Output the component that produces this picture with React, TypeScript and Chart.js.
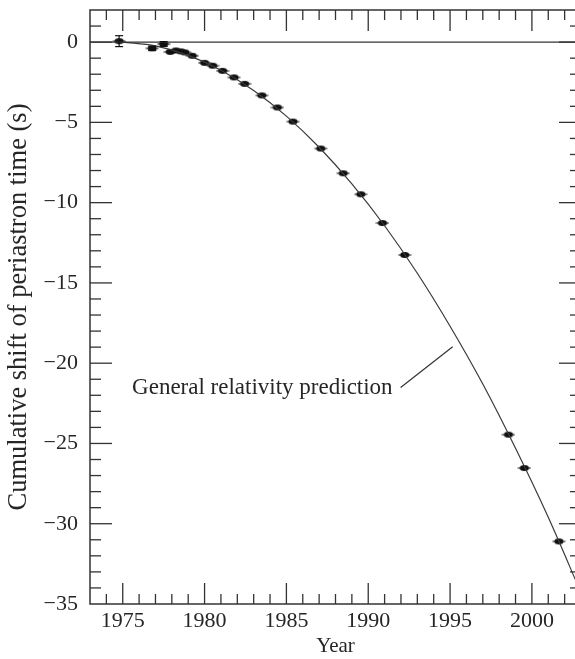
import React, { useEffect, useRef } from 'react';
import { Chart, registerables } from 'chart.js';

Chart.register(...registerables);

// Observed cumulative shift of periastron time (s)
const OBS_YEARS = [1974.78, 1976.8, 1977.5, 1977.9, 1978.25, 1978.56, 1978.8, 1979.25, 1980.0, 1980.5, 1981.1, 1981.8, 1982.45, 1983.5, 1984.45, 1985.4, 1987.1, 1988.47, 1989.55, 1990.87, 1992.23, 1998.57, 1999.54, 2001.65];
const OBS_SHIFT = [0.06, -0.39, -0.12, -0.61, -0.52, -0.58, -0.64, -0.85, -1.29, -1.47, -1.79, -2.2, -2.6, -3.32, -4.07, -4.95, -6.63, -8.17, -9.48, -11.27, -13.26, -24.45, -26.53, -31.1];
const OBS_ERR = [0.34, 0.13, 0.15, 0, 0, 0, 0, 0, 0, 0, 0, 0, 0, 0, 0, 0, 0, 0, 0, 0, 0, 0, 0, 0];

// General relativity prediction curve
const GR_YEARS = [1975, 1977, 1979, 1981, 1983, 1985, 1987, 1989, 1991, 1993, 1995, 1997, 1999, 2001, 2003];
const GR_SHIFT = [0, -0.24, -0.83, -1.75, -3.01, -4.61, -6.55, -8.83, -11.44, -14.4, -17.7, -21.3, -25.3, -29.6, -34.3];

// Axes
const X_RANGE = [1973, 2003];
const Y_RANGE = [-35, 2];
const X_TICKS = [1975, 1980, 1985, 1990, 1995, 2000];
const Y_TICKS = [0, -5, -10, -15, -20, -25, -30, -35];

const X_TITLE = 'Year';
const Y_TITLE = 'Cumulative shift of periastron time (s)';
const ANNOT_TEXT = 'General relativity prediction';
const ANNOT_TEXT_AT = [1991.49, -21.93];
const ANNOT_LINE_FROM = [1991.98, -21.51];
const ANNOT_LINE_TO = [1995.16, -18.98];

const INK = '#262626';
const FONT = '"Liberation Serif", "Times New Roman", serif';

function makeMarker(): HTMLCanvasElement {
  const c = document.createElement('canvas');
  c.width = 14;
  c.height = 8;
  const g = c.getContext('2d')!;
  g.fillStyle = '#111';
  g.beginPath();
  g.ellipse(7, 4, 4.6, 3, 0, 0, Math.PI * 2);
  g.fill();
  g.strokeStyle = '#111';
  g.lineWidth = 1;
  g.beginPath();
  g.moveTo(0.5, 4);
  g.lineTo(13.5, 4);
  g.stroke();
  return c;
}

const framePlugin = {
  id: 'frameTicks',
  afterDatasetsDraw(chart: any) {
    const { ctx, chartArea: a, scales } = chart;
    const xs = scales.x;
    const ys = scales.y;
    const line = (x1: number, y1: number, x2: number, y2: number) => {
      ctx.beginPath();
      ctx.moveTo(x1, y1);
      ctx.lineTo(x2, y2);
      ctx.stroke();
    };
    ctx.save();
    ctx.strokeStyle = '#111';
    ctx.lineWidth = 1.2;
    // error bars
    OBS_YEARS.forEach((yr, i) => {
      const e = OBS_ERR[i];
      if (!e) return;
      const px = xs.getPixelForValue(yr);
      const p1 = ys.getPixelForValue(OBS_SHIFT[i] + e);
      const p2 = ys.getPixelForValue(OBS_SHIFT[i] - e);
      line(px, p1, px, p2);
      line(px - 4, p1, px + 4, p1);
      line(px - 4, p2, px + 4, p2);
    });
    // frame
    ctx.strokeStyle = '#333';
    ctx.lineWidth = 1.5;
    ctx.strokeRect(a.left, a.top, a.right - a.left, a.bottom - a.top);
    ctx.lineWidth = 1.3;
    for (let yr = Math.ceil(xs.min) + (Number.isInteger(xs.min) ? 1 : 0); yr < xs.max; yr++) {
      const px = xs.getPixelForValue(yr);
      const len = yr % 5 === 0 ? 21 : 10;
      line(px, a.bottom, px, a.bottom - len);
      line(px, a.top, px, a.top + len);
    }
    for (let v = Math.ceil(ys.min) + (Number.isInteger(ys.min) ? 1 : 0); v < ys.max; v++) {
      const py = ys.getPixelForValue(v);
      const len = v % 5 === 0 ? 22 : 11;
      line(a.left, py, a.left + len, py);
      line(a.right, py, a.right - len, py);
    }
    // annotation
    ctx.lineWidth = 1.2;
    ctx.strokeStyle = '#333';
    line(
      xs.getPixelForValue(ANNOT_LINE_FROM[0]), ys.getPixelForValue(ANNOT_LINE_FROM[1]),
      xs.getPixelForValue(ANNOT_LINE_TO[0]), ys.getPixelForValue(ANNOT_LINE_TO[1])
    );
    ctx.fillStyle = INK;
    ctx.font = `23px ${FONT}`;
    ctx.textAlign = 'right';
    ctx.textBaseline = 'alphabetic';
    ctx.fillText(ANNOT_TEXT, xs.getPixelForValue(ANNOT_TEXT_AT[0]), ys.getPixelForValue(ANNOT_TEXT_AT[1]));
    ctx.restore();
  },
};

export default function App() {
  const ref = useRef<HTMLCanvasElement | null>(null);

  useEffect(() => {
    document.body.style.margin = '0';
    const canvas = ref.current!;
    const marker = makeMarker();
    const chart = new Chart(canvas, {
      type: 'scatter',
      data: {
        datasets: [
          {
            label: 'zero',
            data: X_RANGE.map((x) => ({ x, y: 0 })),
            showLine: true,
            borderColor: '#333',
            borderWidth: 1.3,
            pointRadius: 0,
          },
          {
            label: 'General relativity prediction',
            data: GR_YEARS.map((x, i) => ({ x, y: GR_SHIFT[i] })),
            showLine: true,
            borderColor: '#3a3a3a',
            borderWidth: 1.2,
            pointRadius: 0,
            cubicInterpolationMode: 'monotone',
          },
          {
            label: 'Observed',
            data: OBS_YEARS.map((x, i) => ({ x, y: OBS_SHIFT[i] })),
            pointStyle: marker,
            pointRadius: 5,
            backgroundColor: '#111',
            borderColor: '#111',
          },
        ],
      },
      options: {
        responsive: false,
        animation: false,
        devicePixelRatio: 1,
        clip: false,
        layout: { autoPadding: false, padding: { top: 10, right: 1, left: 0, bottom: 0 } },
        plugins: { legend: { display: false }, tooltip: { enabled: false } },
        scales: {
          x: {
            type: 'linear',
            position: 'bottom',
            min: X_RANGE[0],
            max: X_RANGE[1],
            grid: { display: false, drawTicks: false },
            border: { display: false },
            afterBuildTicks: (s: any) => {
              s.ticks = X_TICKS.map((value) => ({ value }));
            },
            afterFit: (s: any) => {
              s.height = 55;
              s.paddingLeft = 0;
              s.paddingRight = 0;
            },
            ticks: {
              autoSkip: false,
              maxRotation: 0,
              padding: 4,
              color: INK,
              font: { family: FONT, size: 22 },
              callback: (v: any) => String(v),
            },
            title: {
              display: true,
              text: X_TITLE,
              color: INK,
              font: { family: FONT, size: 21 },
              padding: { top: 0, bottom: 0 },
            },
          },
          y: {
            type: 'linear',
            min: Y_RANGE[0],
            max: Y_RANGE[1],
            grid: { display: false, drawTicks: false },
            border: { display: false },
            afterBuildTicks: (s: any) => {
              s.ticks = Y_TICKS.map((value) => ({ value }));
            },
            afterFit: (s: any) => {
              s.width = 90;
              s.paddingTop = 0;
              s.paddingBottom = 0;
            },
            ticks: {
              autoSkip: false,
              padding: 12,
              color: INK,
              font: { family: FONT, size: 22 },
              callback: (v: any) => (v === 0 ? '0' : '\u2212' + Math.abs(v)),
            },
            title: {
              display: true,
              text: Y_TITLE,
              color: INK,
              font: { family: FONT, size: 26.5 },
              padding: { top: 3, bottom: 0 },
            },
          },
        },
      },
      plugins: [framePlugin],
    } as any);
    return () => chart.destroy();
  }, []);

  return (
    <div style={{ width: 575, height: 659, overflow: 'hidden', position: 'relative' }}>
      <canvas ref={ref} width={582} height={659} style={{ width: 582, height: 659, display: 'block' }} />
    </div>
  );
}
